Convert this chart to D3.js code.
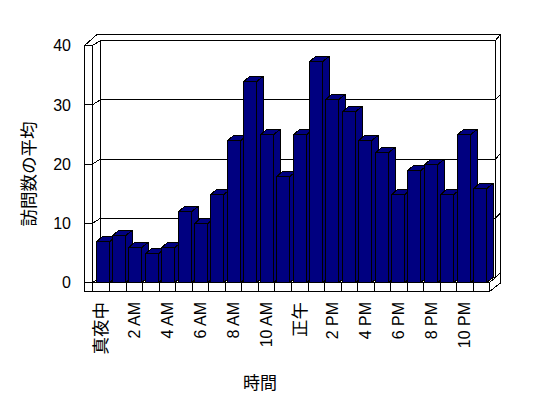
<!DOCTYPE html>
<html><head><meta charset="utf-8">
<script src="https://cdn.jsdelivr.net/npm/d3@7"></script>
<style>
html,body{margin:0;padding:0;background:#fff;}
svg{display:block;}
text{font-family:"Liberation Sans","Noto Sans CJK JP",sans-serif;fill:#000;}
</style></head>
<body>
<script>
const categories = ["真夜中","1 AM","2 AM","3 AM","4 AM","5 AM","6 AM","7 AM","8 AM","9 AM","10 AM","11 AM",
  "正午","1 PM","2 PM","3 PM","4 PM","5 PM","6 PM","7 PM","8 PM","9 PM","10 PM","11 PM"];
const visits = [7,8,6,5,6,12,10,15,24,34,25,18,25,37.4,31,29,24,22,15,19,20,15,25,16];
const yTicks = [0,10,20,30,40];
const labelEvery = 2;
const yTitle = "訪問数の平均";
const xTitle = "時間";

const W = 548, H = 398;
const svg = d3.select("body").append("svg").attr("width", W).attr("height", H);

// geometry of the 3D box
const FL = 84.5, IL = 92.5, BL = 100.5, FR = 489.5, BR = 495.5, OR = 500.5;
const FB = 291.5, OT = 34.5;
const yF = d3.scaleLinear().domain([0,40]).range([282.5, 45.5]);
const yB = d3.scaleLinear().domain([0,40]).range([277.5, 40.5]);
const xFloor = d3.scaleBand().domain(categories).range([IL, FR]);
const xBar = d3.scaleBand().domain(categories).range([94.3, 94.3 + 16.42*24]);
const barW = 13.3, dx = 6.3, dy = -5;
const navy = "#000080";

const g = svg.append("g").attr("fill","none").attr("stroke","#000").attr("stroke-width",1)
  .attr("shape-rendering","crispEdges");

const line = d3.line();
yTicks.forEach(v => {
  if (v === 0 || v === 40) return;
  g.append("path").attr("d", line([[FL,yF(v)],[IL,yF(v)],[BL,yB(v)],[BR,yB(v)],[OR,yB(v)-5.5]]));
});
g.append("path").attr("d", line([[FL,yF(40)],[IL,yF(40)],[BL,yB(40)],[BR,yB(40)],[OR,OT]]));
g.append("path").attr("d", line([[FL,FB],[FL,yF(40)],[97,OT],[OR,OT],[OR,283]]));
g.append("path").attr("d", line([[IL,yF(0)],[IL,yF(40)]]));
g.append("path").attr("d", line([[BL,yB(0)],[BL,yB(40)]]));
g.append("path").attr("d", line([[BR,yB(0)],[BR,yB(40)]]));
g.append("path").attr("d", line([[FL,yF(0)],[IL,yF(0)],[BL,yB(0)],[BR,yB(0)],[OR,yB(0)-5]]));
g.append("rect").attr("x",IL).attr("y",yF(0)).attr("width",FR-IL).attr("height",FB-yF(0)).attr("fill","#fff");
g.append("path").attr("d", line([[FL,FB],[FR,FB],[OR,283]]));
g.append("path").attr("d", line([[FR,yF(0)],[BR,yB(0)]]));
categories.forEach((c,i) => {
  if (i === 0) return;
  const x = Math.round(xFloor(c)) + 0.5;
  g.append("path").attr("d", line([[x,yF(0)],[x,FB]]));
});

// bars
const bars = svg.append("g").attr("stroke","#000").attr("stroke-width",1).attr("fill",navy)
  .attr("shape-rendering","crispEdges");
categories.forEach((c,i) => {
  const x = Math.round(xBar(c) + 1.2) + 0.5;
  const yt = Math.round(yF(visits[i])) + 0.5;
  const yb = yF(0);
  const bg = bars.append("g");
  bg.append("path").attr("d", line([[x+barW,yt],[x+barW+dx,yt+dy],[x+barW+dx,yb+dy],[x+barW,yb]]) + "Z");
  bg.append("path").attr("d", line([[x,yt],[x+barW,yt],[x+barW+dx,yt+dy],[x+dx,yt+dy]]) + "Z");
  bg.append("rect").attr("x",x).attr("y",yt).attr("width",barW).attr("height",yb-yt);
});

// y tick labels
svg.append("g").selectAll("text").data(yTicks).join("text")
  .attr("x", 71).attr("y", d => yF(d)).attr("dy","0.36em")
  .attr("text-anchor","end").attr("font-size",16).text(d => d);

// x tick labels
svg.append("g").selectAll("text").data(categories.filter((c,i) => i % labelEvery === 0)).join("text")
  .attr("transform", d => `translate(${xFloor(d)+xFloor.bandwidth()/2},302) rotate(-90)`)
  .attr("text-anchor","end").attr("dy","0.36em")
  .attr("font-size", d => /[A-Z0-9]/.test(d) ? 16 : 17.5)
  .text(d => d);

// titles
svg.append("text").attr("transform","translate(29,174) rotate(-90)")
  .attr("text-anchor","middle").attr("dy","0.36em").attr("font-size",17.5).text(yTitle);
svg.append("text").attr("x",260).attr("y",383).attr("dy","0.36em")
  .attr("text-anchor","middle").attr("font-size",17).text(xTitle);
</script>
</body></html>
